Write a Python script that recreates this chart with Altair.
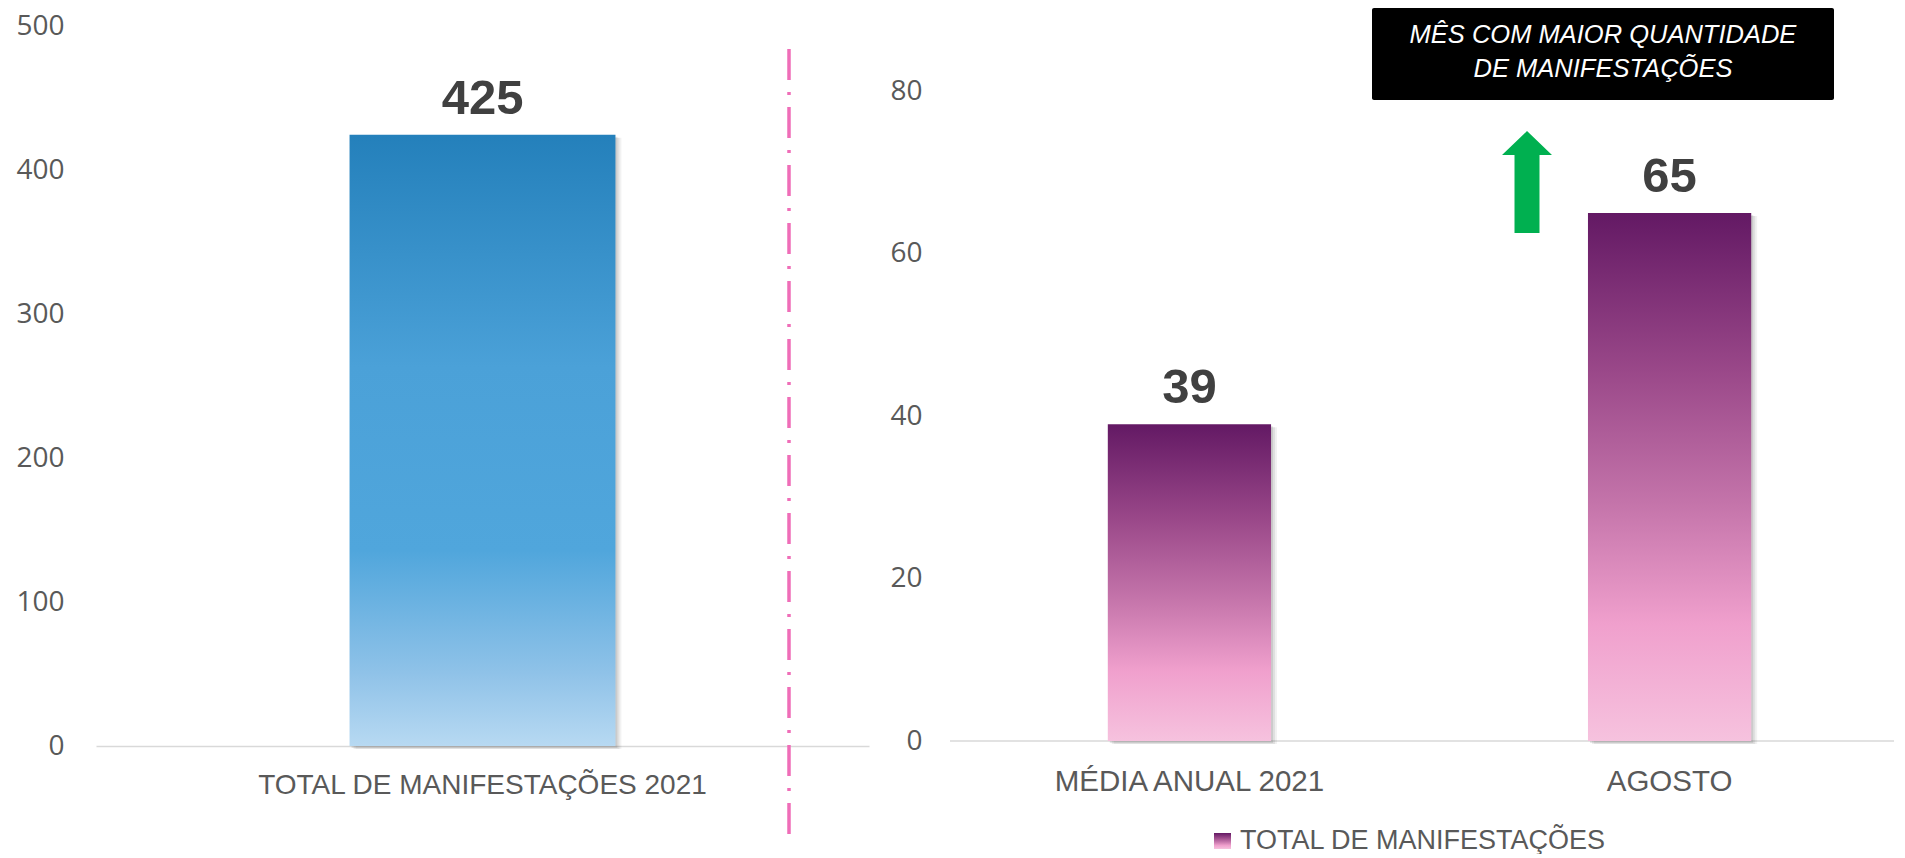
import altair as alt
import pandas as pd

# ---------------- data ----------------
left_cats = ["TOTAL DE MANIFESTAÇÕES 2021"]
left_vals = [425]
right_cats = ["MÉDIA ANUAL 2021", "AGOSTO"]
right_vals = [39, 65]
left_ticks = [0, 100, 200, 300, 400, 500]
right_ticks = [0, 20, 40, 60, 80]
legend_label = ["TOTAL DE MANIFESTAÇÕES"]
note_lines = ["MÊS COM MAIOR QUANTIDADE", "DE MANIFESTAÇÕES"]

left_df = pd.DataFrame({"cat": left_cats, "val": left_vals})
right_df = pd.DataFrame({"cat": right_cats, "val": right_vals})
note_df = pd.DataFrame({"note": ["\n".join(note_lines)]})
legend_df = pd.DataFrame({"label": legend_label})

# ---------------- styles ----------------
LABEL_FONT = "Liberation Sans"
TICK_FONT = "Open Sans"
GREY = "#595959"

blue_grad = alt.Gradient(
    gradient="linear", x1=0, x2=0, y1=0, y2=1,
    stops=[
        alt.GradientStop(color="#2480BB", offset=0),
        alt.GradientStop(color="#4BA1D8", offset=0.38),
        alt.GradientStop(color="#50A6DC", offset=0.68),
        alt.GradientStop(color="#8FC2E8", offset=0.88),
        alt.GradientStop(color="#B7D9F2", offset=1),
    ],
)
purple_grad = alt.Gradient(
    gradient="linear", x1=0, x2=0, y1=0, y2=1,
    stops=[
        alt.GradientStop(color="#631964", offset=0),
        alt.GradientStop(color="#9A4889", offset=0.3),
        alt.GradientStop(color="#C474AA", offset=0.55),
        alt.GradientStop(color="#F0A0CD", offset=0.78),
        alt.GradientStop(color="#F6C2DE", offset=1),
    ],
)

# plot areas start at the very top of the content
LW, LH = 773, 738
RW, RH = 944, 733
LEG_Y = 833


def shadows(base, x_enc, y_enc):
    layers = []
    for k, op in [(6, 0.05), (4, 0.07), (2, 0.09)]:
        layers.append(
            base.mark_bar(color="#000000", opacity=op, xOffset=k, yOffset=min(k, 3))
            .encode(x=x_enc, y=y_enc)
        )
    return layers


# ---------------- left chart ----------------
xl = alt.X(
    "cat:N", sort=left_cats, title=None,
    scale=alt.Scale(paddingInner=0.656, paddingOuter=0.328),
    axis=alt.Axis(labelAngle=0, labelFont=LABEL_FONT, labelFontSize=28, labelColor=GREY,
                  labelPadding=25, labelLimit=0, ticks=False,
                  domainColor="#D9D9D9", domainWidth=1.5),
)
yl = alt.Y(
    "val:Q", title=None,
    scale=alt.Scale(domain=[0, 513.2], nice=False),
    axis=alt.Axis(values=left_ticks, grid=False, domain=False, ticks=False,
                  labelFont=TICK_FONT, labelFontSize=28, labelColor=GREY, labelPadding=32),
)
lbase = alt.Chart(left_df)
left_bar = lbase.mark_bar(color=blue_grad).encode(x=xl, y=yl)
left_text = lbase.mark_text(font=LABEL_FONT, fontSize=49, fontWeight="bold", color="#404040",
                            baseline="alphabetic", dy=-21).encode(x=xl, y=yl, text="val:Q")
divider = lbase.mark_rule(color="#EF6DB8", strokeWidth=3.5, strokeDash=[31, 12, 3, 12]).encode(
    x=alt.value(693), y=alt.value(41), y2=alt.value(836)
)
left = alt.layer(*shadows(lbase, xl, yl), left_bar, left_text, divider).properties(width=LW, height=LH)

# ---------------- right chart ----------------
xr = alt.X(
    "cat:N", sort=right_cats, title=None,
    scale=alt.Scale(paddingInner=0.66, paddingOuter=0.313, align=0.525),
    axis=alt.Axis(labelAngle=0, labelFont=LABEL_FONT, labelFontSize=29.5, labelColor=GREY,
                  labelPadding=26, labelLimit=0, ticks=False, domain=False),
)
yr = alt.Y(
    "val:Q", title=None,
    scale=alt.Scale(domain=[0, 90.22], nice=False),
    axis=alt.Axis(values=right_ticks, grid=False, domain=False, ticks=False,
                  labelFont=TICK_FONT, labelFontSize=28, labelColor=GREY, labelPadding=28),
)
rbase = alt.Chart(right_df)
right_bar = rbase.mark_bar(color=purple_grad).encode(x=xr, y=yr)
right_text = rbase.mark_text(font=LABEL_FONT, fontSize=49, fontWeight="bold", color="#404040",
                             baseline="alphabetic", dy=-21).encode(x=xr, y=yr, text="val:Q")
baseline = alt.Chart(legend_df).mark_rule(color="#D9D9D9", strokeWidth=1.5).encode(
    x=alt.value(0), x2=alt.value(RW), y=alt.value(RH)
)

note_box = alt.Chart(note_df).mark_rect(color="#000000", cornerRadius=2).encode(
    x=alt.value(422), x2=alt.value(884), y=alt.value(0), y2=alt.value(92)
)
note_text = alt.Chart(note_df).mark_text(
    font=LABEL_FONT, fontSize=25.5, fontStyle="italic", color="#FFFFFF",
    lineBreak="\n", lineHeight=34, align="center", baseline="middle",
).encode(x=alt.value(653), y=alt.value(27), text="note:N")

arrow_path = ("M0,-1 L0.49,-0.53 L0.245,-0.53 L0.245,1 L-0.245,1 "
              "L-0.245,-0.53 L-0.49,-0.53 Z")
arrow = alt.Chart(note_df).mark_point(
    shape=arrow_path, size=10404, filled=True, color="#00B050", opacity=1, strokeWidth=0
).encode(x=alt.value(577), y=alt.value(174))

legend_sq = alt.Chart(legend_df).mark_rect(color=purple_grad).encode(
    x=alt.value(264), x2=alt.value(281), y=alt.value(LEG_Y - 8), y2=alt.value(LEG_Y + 8)
)
legend_txt = alt.Chart(legend_df).mark_text(
    font=LABEL_FONT, fontSize=27, color=GREY, align="left", baseline="middle"
).encode(x=alt.value(290), y=alt.value(LEG_Y), text="label:N")

right = alt.layer(
    baseline, *shadows(rbase, xr, yr), right_bar, right_text,
    note_box, note_text, arrow, legend_sq, legend_txt
).properties(width=RW, height=RH)

chart = (
    alt.hconcat(left, right, spacing=81, bounds="flush")
    .properties(padding={"left": 7, "top": 0, "right": 0, "bottom": 0}, background="#FFFFFF")
    .configure_view(stroke="transparent", strokeWidth=0)
)

chart.save("out.html", embed_options={"renderer": "svg", "actions": False})
